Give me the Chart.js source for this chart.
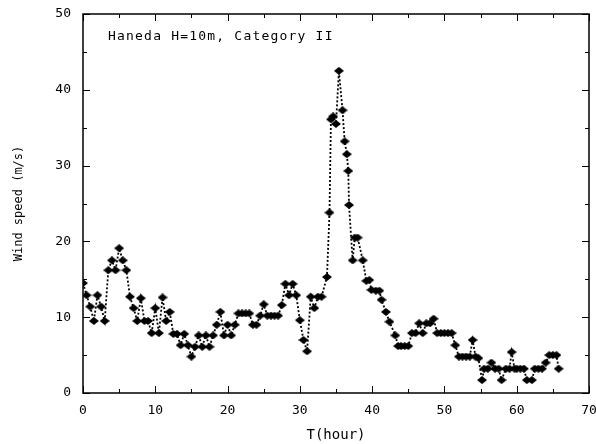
<!DOCTYPE html>
<html>
<head>
<meta charset="utf-8">
<script src="https://cdn.jsdelivr.net/npm/chart.js@4.4.1/dist/chart.umd.min.js"></script>
<style>
	body{margin:0;background:#fff;}
	#wind{display:block;}
</style>
</head>
<body>
<canvas id="wind" width="596" height="444"></canvas>
<script>
	// hours since start
	var hours=[0,0.5,1,1.5,2,2.5,3,3.5,4,4.5,5,5.5,6,6.5,7,7.5,8,8.5,9,9.5,10,10.5,11,11.5,12,12.5,13,13.5,14,14.5,
		15,15.5,16,16.5,17,17.5,18,18.5,19,19.5,20,20.5,21,21.5,22,22.5,23,23.5,24,24.5,25,25.5,26,26.5,27,27.5,28,28.5,29,29.5,
		30,30.5,31,31.5,32,32.5,33,33.75,34.1,34.3,34.6,35,35.4,35.9,36.2,36.5,36.7,36.8,37.3,37.6,38,38.7,39.2,39.6,39.9,40.5,41,41.3,41.9,42.4,
		43.2,43.6,44,44.5,45,45.5,46,46.5,47,47.5,48,48.5,49,49.5,50,50.5,51,51.5,52,52.5,53,53.5,53.9,54.3,54.7,55.2,
		55.5,56,56.5,57,57.5,57.9,58.5,59,59.3,59.7,60,60.5,61,61.4,62.1,62.5,63,63.5,64,64.5,65,65.5,65.8];
	// wind speed m/s
	var speeds=[14.5,12.9,11.4,9.5,12.9,11.4,9.5,16.2,17.5,16.2,19.1,17.5,16.2,12.7,11.2,9.5,12.5,9.5,9.5,7.9,11.2,7.9,12.6,9.5,10.7,7.8,7.8,6.3,7.8,6.3,
		4.8,6.1,7.6,6.1,7.6,6.1,7.6,9.0,10.7,7.6,9.0,7.6,9.0,10.5,10.5,10.5,10.5,9.0,9.0,10.2,11.7,10.2,10.2,10.2,10.2,11.6,14.4,12.9,14.4,12.9,
		9.6,7.0,5.5,12.7,11.2,12.7,12.7,15.3,23.8,36.1,36.5,35.5,42.5,37.3,33.2,31.5,29.3,24.8,17.5,20.5,20.5,17.5,14.8,14.9,13.6,13.5,13.5,12.3,10.7,9.4,
		7.6,6.2,6.2,6.2,6.2,7.9,7.9,9.2,7.9,9.2,9.2,9.8,7.9,7.9,7.9,7.9,7.9,6.3,4.8,4.8,4.8,4.8,7.0,4.8,4.6,1.7,
		3.2,3.2,4.0,3.2,3.2,1.7,3.2,3.2,5.4,3.2,3.2,3.2,3.2,1.7,1.7,3.2,3.2,3.2,4.0,5.0,5.0,5.0,3.2];
	var xTicks=[0,10,20,30,40,50,60,70];
	var yTicks=[0,10,20,30,40,50];
	var note="Haneda H=10m, Category II";

	var fontFam="'DejaVu Sans Mono', monospace";

	var points=hours.map(function(h,i){return {x:h,y:speeds[i]};});

	// wide flat diamond marker, like the scanned figure
	var diamond=document.createElement('canvas');
	diamond.width=10;diamond.height=8;
	(function(){
		var d=diamond.getContext('2d');
		d.fillStyle='#000';
		d.beginPath();
		d.moveTo(5,0);d.lineTo(10,4);d.lineTo(5,8);d.lineTo(0,4);
		d.closePath();d.fill();
	})();

	// frame on four sides with inward ticks, plus the caption
	var frame={
		id:'frame',
		afterDraw:function(chart){
			var c=chart.ctx,a=chart.chartArea,xs=chart.scales.x,ys=chart.scales.y;
			c.save();
			c.strokeStyle='#000';
			c.lineWidth=1.5;
			c.strokeRect(a.left,a.top,a.right-a.left,a.bottom-a.top);
			c.lineWidth=1;
			c.beginPath();
			for(var v=0;v<=70;v+=5){
				var px=Math.round(xs.getPixelForValue(v))+0.5,len=v%10?4:7;
				c.moveTo(px,a.bottom);c.lineTo(px,a.bottom-len);
				c.moveTo(px,a.top);c.lineTo(px,a.top+len);
			}
			for(var w=0;w<=50;w+=5){
				var py=Math.round(ys.getPixelForValue(w))+0.5,l2=w%10?4:7;
				c.moveTo(a.left,py);c.lineTo(a.left+l2,py);
				c.moveTo(a.right,py);c.lineTo(a.right-l2,py);
			}
			c.stroke();
			c.fillStyle='#000';
			c.font="13px "+fontFam;
			c.letterSpacing='1.2px';
			c.textBaseline='middle';
			c.fillText(note,a.left+25,a.top+23);
			c.restore();
		}
	};

	new Chart(document.getElementById('wind'),{
		type:'scatter',
		data:{
			datasets:[{
				data:points,
				showLine:true,
				borderColor:'#000',
				borderWidth:1.8,
				borderDash:[2,2],
				backgroundColor:'#000',
				pointStyle:diamond,
				pointRadius:4,
				tension:0
			}]
		},
		options:{
			responsive:false,
			animation:false,
			layout:{padding:{left:12,right:7,top:14,bottom:0}},
			plugins:{legend:{display:false},tooltip:{enabled:false}},
			scales:{
				x:{
					type:'linear',min:0,max:70,
					afterBuildTicks:function(s){s.ticks=xTicks.map(function(v){return {value:v};});},
					afterFit:function(s){s.height=51;s.paddingLeft=0;s.paddingRight=0;},
					grid:{display:false,drawTicks:false},
					border:{display:false},
					ticks:{color:'#000',padding:10,maxRotation:0,font:{family:fontFam,size:13}},
					title:{display:true,text:'T(hour)',color:'#000',padding:{top:4,bottom:0},font:{family:fontFam,size:14}}
				},
				y:{
					min:0,max:50,
					afterBuildTicks:function(s){s.ticks=yTicks.map(function(v){return {value:v};});},
					afterFit:function(s){s.width=71;s.paddingTop=0;s.paddingBottom=0;},
					grid:{display:false,drawTicks:false},
					border:{display:false},
					ticks:{color:'#000',padding:12,font:{family:fontFam,size:13}},
					title:{display:true,text:'Wind speed (m/s)',color:'#000',padding:{top:0,bottom:6},font:{family:fontFam,size:12}}
				}
			}
		},
		plugins:[frame]
	});
</script>
</body>
</html>
